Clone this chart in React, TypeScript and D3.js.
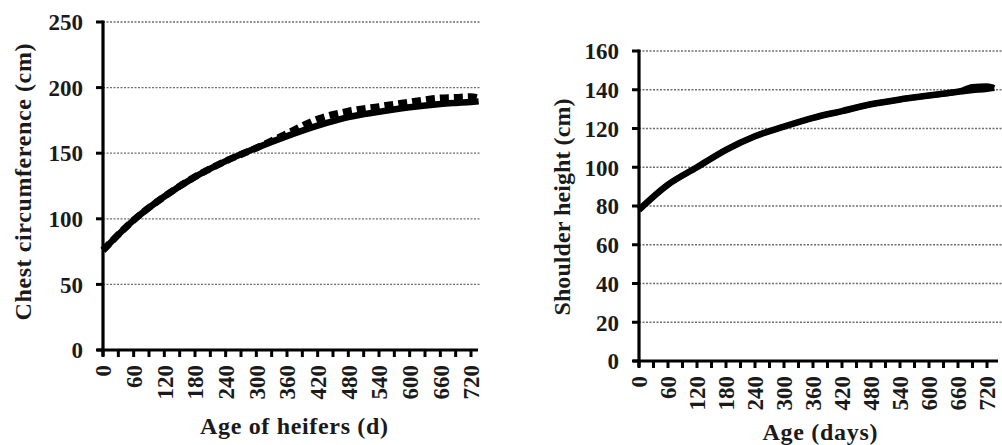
import * as d3 from "d3";

const ages = [0, 60, 120, 180, 240, 300, 360, 420, 480, 540, 600, 660, 690, 720, 735];

// Chest circumference (cm): fitted curve and observed (dashed) series
const chestFitted = [76, 99, 117, 132, 144, 154, 163, 171, 177.5, 181.5, 185, 187.5, 188.3, 189, 189.5];
const chestObserved = [76, 99, 117, 132, 144, 154, 165, 176, 182, 185.5, 189, 192, 192.5, 193, 192];

// Shoulder height (cm)
const shoulderFitted = [78, 91, 100, 109, 116, 121, 125.5, 129, 132.5, 135, 137, 139, 139.8, 140.5, 141];
const shoulderObserved = [78, 91, 100, 109, 116, 121, 125.5, 129, 132.5, 135, 137, 139, 141.5, 142, 141];

const chestTicks = [0, 50, 100, 150, 200, 250];
const shoulderTicks = [0, 20, 40, 60, 80, 100, 120, 140, 160];
const xLabelTicks = [0, 60, 120, 180, 240, 300, 360, 420, 480, 540, 600, 660, 720];
const xMinorTicks = d3.range(0, 721, 30);

const FONT = "'Liberation Serif', 'Times New Roman', serif";

interface PanelProps {
  x0: number;
  x1: number;
  yTop: number;
  yBottom: number;
  yMax: number;
  yTicks: number[];
  gridRight: number;
  axisRight: number;
  fitted: number[];
  observed: number[];
  dashed: boolean;
  yTitle: string;
  yTitleX: number;
  yTitleY: number;
  yTitleLen: number;
  xTitle: string;
  xTitleX: number;
  xTitleY: number;
  xTitleLen: number;
}

function Panel(p: PanelProps) {
  const x = d3.scaleLinear().domain([0, 720]).range([p.x0, p.x1]);
  const y = d3.scaleLinear().domain([0, p.yMax]).range([p.yBottom, p.yTop]);

  const line = d3
    .line<number>()
    .x((_, i) => x(ages[i]))
    .y((d) => y(d))
    .curve(d3.curveMonotoneX);

  const axisY = p.yBottom;

  return (
    <g>
      {/* gridlines */}
      {p.yTicks.filter((t) => t > 0).map((t) => (
        <line
          key={`g${t}`}
          x1={p.x0}
          x2={p.gridRight}
          y1={y(t)}
          y2={y(t)}
          stroke="#6e6e6e"
          strokeWidth={1.3}
          strokeDasharray="2,1.5"
        />
      ))}

      {/* curves */}
      <path d={line(p.fitted) ?? ""} fill="none" stroke="#000" strokeWidth={6.5} strokeLinejoin="round" />
      <path
        d={line(p.observed) ?? ""}
        fill="none"
        stroke="#000"
        strokeWidth={p.dashed ? 7 : 5.5}
        strokeDasharray={p.dashed ? "9,5" : undefined}
      />

      {/* y axis */}
      <line x1={p.x0} x2={p.x0} y1={p.yTop - 1.5} y2={axisY + 6} stroke="#000" strokeWidth={3.2} />
      {p.yTicks.map((t) => (
        <g key={`y${t}`}>
          <line x1={p.x0 - 7} x2={p.x0} y1={y(t)} y2={y(t)} stroke="#000" strokeWidth={3} />
          <text
            x={p.x0 - 20}
            y={y(t)}
            dy="0.36em"
            textAnchor="end"
            fontFamily={FONT}
            fontWeight="bold"
            fontSize={23}
            fill="#1a1a1a"
          >
            {t}
          </text>
        </g>
      ))}

      {/* x axis */}
      <line x1={p.x0 - 6} x2={p.axisRight} y1={axisY} y2={axisY} stroke="#000" strokeWidth={3.2} />
      {xMinorTicks.map((t) => (
        <line key={`xt${t}`} x1={x(t)} x2={x(t)} y1={axisY} y2={axisY + 7} stroke="#000" strokeWidth={3} />
      ))}
      {xLabelTicks.map((t) => (
        <text
          key={`xl${t}`}
          transform={`translate(${x(t)},${axisY + 15}) rotate(-90)`}
          dy="0.36em"
          textAnchor="end"
          fontFamily={FONT}
          fontWeight="bold"
          fontSize={23}
          fill="#1a1a1a"
        >
          {t}
        </text>
      ))}

      {/* titles */}
      <text
        transform={`translate(${p.yTitleX},${p.yTitleY}) rotate(-90)`}
        textAnchor="middle"
        dy="0.35em"
        fontFamily={FONT}
        fontWeight="bold"
        fontSize={24}
        textLength={p.yTitleLen}
        lengthAdjust="spacing"
        fill="#1a1a1a"
      >
        {p.yTitle}
      </text>
      <text
        x={p.xTitleX}
        y={p.xTitleY}
        textAnchor="middle"
        fontFamily={FONT}
        fontWeight="bold"
        fontSize={24}
        textLength={p.xTitleLen}
        lengthAdjust="spacing"
        fill="#1a1a1a"
      >
        {p.xTitle}
      </text>
    </g>
  );
}

export default function App() {
  return (
    <svg
      width={1002}
      height={445}
      style={{ position: "absolute", left: 0, top: 0, background: "#fff" }}
    >
      <rect width={1002} height={445} fill="#fff" />
      <Panel
        x0={103}
        x1={471}
        yTop={22}
        yBottom={350}
        yMax={250}
        yTicks={chestTicks}
        gridRight={480}
        axisRight={478}
        fitted={chestFitted}
        observed={chestObserved}
        dashed={true}
        yTitle="Chest circumference (cm)"
        yTitleX={23}
        yTitleY={182}
        yTitleLen={277}
        xTitle="Age of heifers (d)"
        xTitleX={294}
        xTitleY={434}
        xTitleLen={188}
      />
      <Panel
        x0={639}
        x1={987}
        yTop={51}
        yBottom={361}
        yMax={160}
        yTicks={shoulderTicks}
        gridRight={1010}
        axisRight={998}
        fitted={shoulderFitted}
        observed={shoulderObserved}
        dashed={false}
        yTitle="Shoulder height (cm)"
        yTitleX={562}
        yTitleY={207}
        yTitleLen={217}
        xTitle="Age (days)"
        xTitleX={820}
        xTitleY={440}
        xTitleLen={115}
      />
    </svg>
  );
}
